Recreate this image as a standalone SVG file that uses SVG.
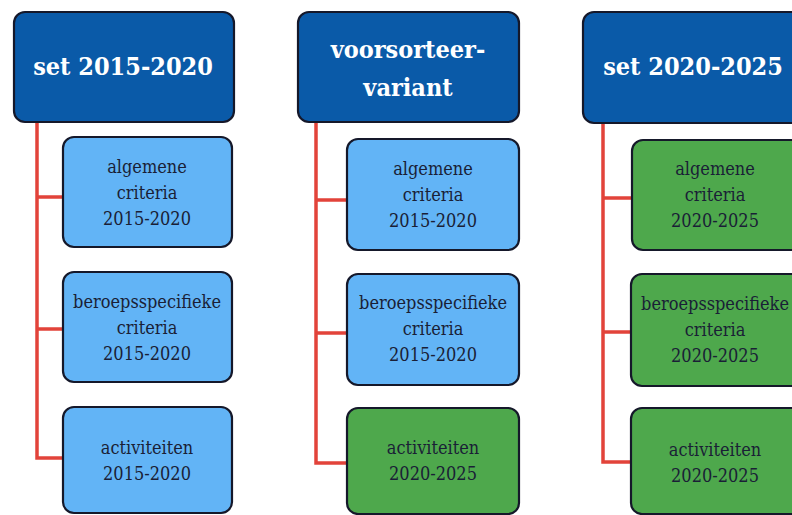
<svg xmlns="http://www.w3.org/2000/svg" width="792" height="515" viewBox="0 0 792 515">
<style>
.box{stroke:#15182a;stroke-width:2.2}
.hd{fill:#0a5aa8}
.lb{fill:#62b4f6}
.gr{fill:#4ea84c}
.ht{font-family:"DejaVu Serif Condensed","DejaVu Serif","Liberation Serif",serif;font-stretch:condensed;font-weight:bold;font-size:25px;fill:#ffffff;text-anchor:middle}
.ct{font-family:"DejaVu Serif Condensed","DejaVu Serif","Liberation Serif",serif;font-stretch:condensed;font-size:18px;fill:#1a1f36;text-anchor:middle}
.ln{stroke:#e2433a;stroke-width:3.5;fill:none}
</style>
<rect width="792" height="515" fill="#ffffff"/>
<g id="connectors">
<path class="ln" d="M37 122 V458 H63 M37 197 H63 M37 329 H63"/>
<path class="ln" d="M316 122 V463 H347 M316 200 H347 M316 333 H347"/>
<path class="ln" d="M603 122 V462 H632 M603 198 H632 M603 332 H632"/>
</g>
<g id="set2015">
<rect class="box hd" x="14" y="12" width="220" height="110" rx="11"/>
<text class="ht" x="123" y="75">set 2015-2020</text>
</g>
<g id="alg2015">
<rect class="box lb" x="63" y="137" width="169" height="110" rx="11"/>
<text class="ct" x="147" y="173">algemene</text>
<text class="ct" x="147" y="199">criteria</text>
<text class="ct" x="147" y="225">2015-2020</text>
</g>
<g id="ber2015">
<rect class="box lb" x="63" y="272" width="169" height="110" rx="11"/>
<text class="ct" x="147" y="308">beroepsspecifieke</text>
<text class="ct" x="147" y="334">criteria</text>
<text class="ct" x="147" y="360">2015-2020</text>
</g>
<g id="act2015">
<rect class="box lb" x="63" y="407" width="169" height="106" rx="11"/>
<text class="ct" x="147" y="454">activiteiten</text>
<text class="ct" x="147" y="480">2015-2020</text>
</g>
<g id="voorsorteer">
<rect class="box hd" x="298" y="12" width="221" height="110" rx="11"/>
<text class="ht" x="408" y="58">voorsorteer-</text>
<text class="ht" x="408" y="96">variant</text>
</g>
<g id="alg-v">
<rect class="box lb" x="347" y="139" width="172" height="111" rx="11"/>
<text class="ct" x="433" y="175">algemene</text>
<text class="ct" x="433" y="201">criteria</text>
<text class="ct" x="433" y="227">2015-2020</text>
</g>
<g id="ber-v">
<rect class="box lb" x="347" y="274" width="172" height="111" rx="11"/>
<text class="ct" x="433" y="309">beroepsspecifieke</text>
<text class="ct" x="433" y="335">criteria</text>
<text class="ct" x="433" y="361">2015-2020</text>
</g>
<g id="act-v">
<rect class="box gr" x="347" y="408" width="172" height="106" rx="11"/>
<text class="ct" x="433" y="454">activiteiten</text>
<text class="ct" x="433" y="480">2020-2025</text>
</g>
<g id="set2020">
<rect class="box hd" x="583" y="12" width="225" height="111" rx="11"/>
<text class="ht" x="693" y="75">set 2020-2025</text>
</g>
<g id="alg2020">
<rect class="box gr" x="632" y="140" width="176" height="110" rx="11"/>
<text class="ct" x="715" y="175">algemene</text>
<text class="ct" x="715" y="201">criteria</text>
<text class="ct" x="715" y="227">2020-2025</text>
</g>
<g id="ber2020">
<rect class="box gr" x="631" y="274" width="177" height="112" rx="11"/>
<text class="ct" x="715" y="310">beroepsspecifieke</text>
<text class="ct" x="715" y="336">criteria</text>
<text class="ct" x="715" y="362">2020-2025</text>
</g>
<g id="act2020">
<rect class="box gr" x="631" y="408" width="177" height="106" rx="11"/>
<text class="ct" x="715" y="456">activiteiten</text>
<text class="ct" x="715" y="482">2020-2025</text>
</g>
</svg>
